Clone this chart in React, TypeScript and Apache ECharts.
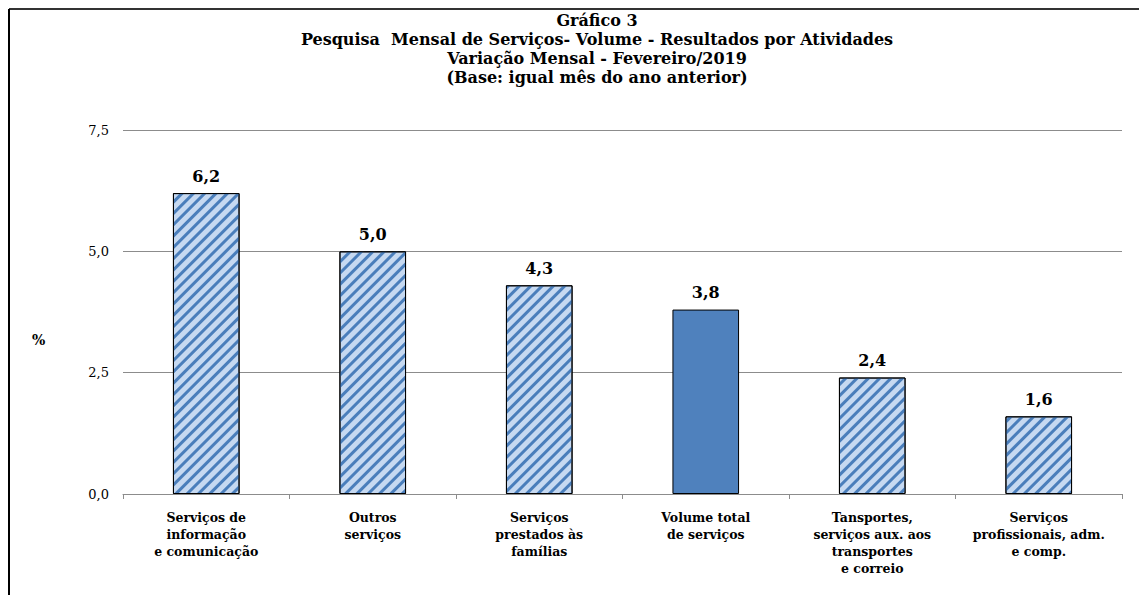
import React, { useEffect, useRef } from "react";
import * as echarts from "echarts";

const categories = [
  "Serviços de\ninformação\ne comunicação",
  "Outros\nserviços",
  "Serviços\nprestados às\nfamílias",
  "Volume total\nde serviços",
  "Tansportes,\nserviços aux. aos\ntransportes\ne correio",
  "Serviços\nprofissionais, adm.\ne comp.",
];
const values = [6.2, 5.0, 4.3, 3.8, 2.4, 1.6];
const totalIndex = 3;
const titleLines = [
  "Gráfico 3",
  "Pesquisa  Mensal de Serviços- Volume - Resultados por Atividades",
  "Variação Mensal - Fevereiro/2019",
  "(Base: igual mês do ano anterior)",
];
const yTicks = { min: 0, max: 7.5, interval: 2.5 };

const fmt = (v: number) => v.toFixed(1).replace(".", ",");

export default function App() {
  const ref = useRef<HTMLDivElement>(null);
  useEffect(() => {
    if (!ref.current) return;
    const chart = echarts.init(ref.current, null, { renderer: "svg" });
    const hatch = {
      symbol: "rect",
      symbolSize: 1,
      color: "#4a7ebb",
      backgroundColor: "#c6d9f1",
      dashArrayX: [1, 0],
      dashArrayY: [3, 5],
      rotation: -Math.PI / 4,
    };
    chart.setOption({
      animation: false,
      backgroundColor: "#ffffff",
      title: {
        text: titleLines.join("\n"),
        left: 592,
        top: 6,
        textAlign: "center",
        textStyle: {
          fontFamily: "DejaVu Serif",
          fontWeight: "bold",
          fontSize: 16,
          lineHeight: 19,
          color: "#000",
        },
      },
      grid: { left: 123, right: 17, top: 130, bottom: 101 },
      xAxis: {
        type: "category",
        data: categories,
        axisLine: { lineStyle: { color: "#8c8c8c", width: 1 } },
        axisTick: { show: true, length: 5, lineStyle: { color: "#8c8c8c" } },
        axisLabel: {
          interval: 0,
          fontFamily: "DejaVu Serif",
          fontWeight: "bold",
          fontSize: 12.5,
          lineHeight: 17,
          color: "#000",
          margin: 15,
        },
      },
      yAxis: {
        type: "value",
        min: yTicks.min,
        max: yTicks.max,
        interval: yTicks.interval,
        axisLine: { show: false },
        axisTick: { show: false },
        splitLine: { lineStyle: { color: "#8c8c8c", width: 1 } },
        axisLabel: {
          formatter: (v: number) => fmt(v),
          fontFamily: "DejaVu Serif",
          fontSize: 13,
          color: "#000",
          margin: 14,
        },
      },
      graphic: [
        { type: "line", shape: { x1: 9, y1: 9, x2: 1139, y2: 9 }, style: { stroke: "#333", lineWidth: 2 } },
        { type: "line", shape: { x1: 9, y1: 9, x2: 9, y2: 595 }, style: { stroke: "#000", lineWidth: 2 } },
        {
          type: "text",
          left: 32,
          top: 333,
          style: { text: "%", fontFamily: "DejaVu Serif", fontWeight: "bold", fontSize: 14, fill: "#000" },
        },
      ],
      series: [
        {
          type: "bar",
          barWidth: "40%",
          data: values.map((v, i) =>
            i === totalIndex
              ? { value: v, itemStyle: { color: "#4f81bd", borderColor: "#000", borderWidth: 1 } }
              : { value: v, itemStyle: { color: "#c6d9f1", borderColor: "#000", borderWidth: 1, decal: hatch } }
          ),
          label: {
            show: true,
            position: "top",
            distance: 9,
            formatter: (p: any) => fmt(p.value),
            fontFamily: "DejaVu Serif",
            fontWeight: "bold",
            fontSize: 16,
            color: "#000",
          },
        },
      ],
    });
    return () => chart.dispose();
  }, []);
  return (
    <div
      ref={ref}
      style={{ position: "fixed", left: 0, top: 0, width: 1139, height: 595 }}
    />
  );
}
